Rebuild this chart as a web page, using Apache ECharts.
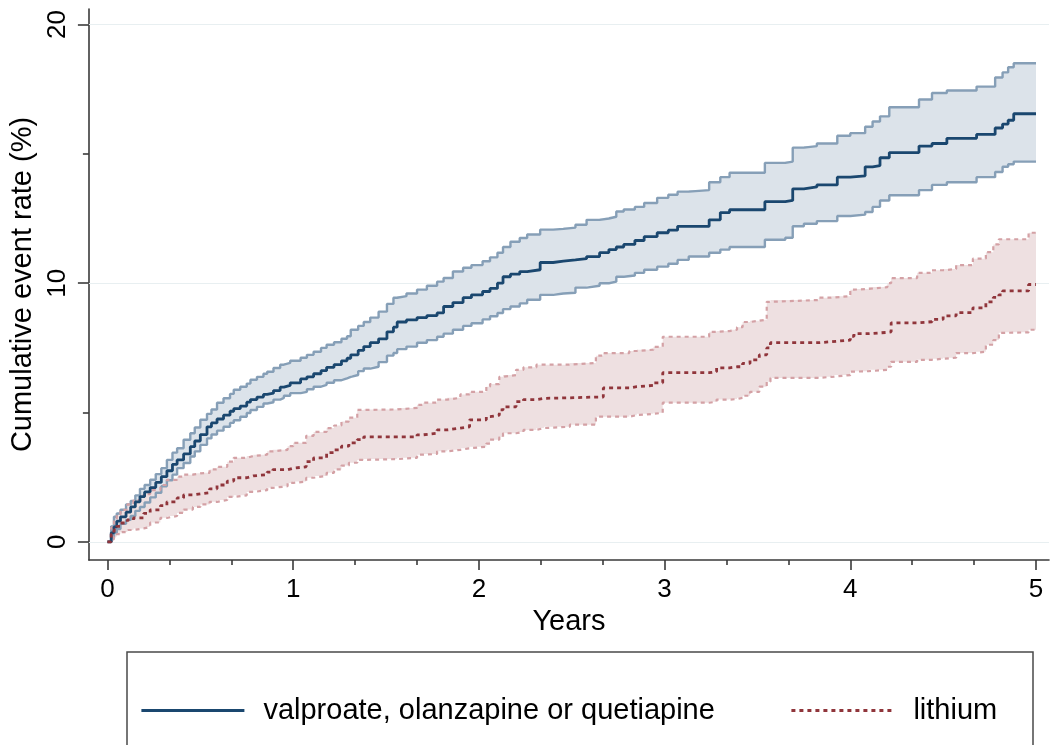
<!DOCTYPE html>
<html>
<head>
<meta charset="utf-8">
<title>Cumulative event rate by treatment</title>
<script src="https://cdn.jsdelivr.net/npm/echarts@6/dist/echarts.min.js"></script>
<style>
  html, body { margin: 0; padding: 0; background: #ffffff; }
  #chart { width: 1050px; height: 745px; }
</style>
</head>
<body>
<div id="chart"></div>
<script>
// Kaplan–Meier style cumulative event curves with 95% confidence bands.
// Times in years; rates in percent.

const blueYears = [0, 0.02, 0.035, 0.05, 0.07, 0.1, 0.125, 0.15, 0.175, 0.2, 0.23, 0.26, 0.29, 0.32, 0.35, 0.375, 0.41, 0.446, 0.47, 0.5,
  0.536, 0.56, 0.59, 0.625, 0.66, 0.68, 0.715, 0.75, 0.77, 0.805, 0.84, 0.86, 0.894, 0.93, 0.95, 0.984, 1.04, 1.074, 1.11, 1.15,
  1.18, 1.22, 1.26, 1.29, 1.31, 1.35, 1.38, 1.415, 1.46, 1.505, 1.54, 1.56, 1.61, 1.667, 1.72, 1.775, 1.81, 1.86, 1.915, 1.96,
  2.02, 2.06, 2.1, 2.13, 2.17, 2.22, 2.26, 2.33, 2.4, 2.455, 2.52, 2.58, 2.65, 2.7, 2.74, 2.78, 2.84, 2.89, 2.96, 3.02,
  3.07, 3.13, 3.24, 3.3, 3.35, 3.54, 3.65, 3.69, 3.75, 3.82, 3.93, 4.0, 4.08, 4.12, 4.16, 4.21, 4.37, 4.44, 4.52, 4.68,
  4.78, 4.82, 4.85, 4.88, 5.0];
const blueRate = [0, 0.35, 0.58, 0.8, 0.97, 1.15, 1.35, 1.55, 1.75, 1.93, 2.1, 2.3, 2.52, 2.75, 3.0, 3.17, 3.4, 3.68, 3.9, 4.15,
  4.45, 4.6, 4.75, 4.9, 5.05, 5.15, 5.25, 5.4, 5.5, 5.6, 5.7, 5.75, 5.85, 5.98, 6.05, 6.15, 6.3, 6.38, 6.5, 6.62,
  6.75, 6.85, 7.0, 7.1, 7.23, 7.4, 7.55, 7.7, 7.85, 8.12, 8.3, 8.5, 8.58, 8.67, 8.75, 8.85, 9.1, 9.25, 9.44, 9.55,
  9.68, 9.8, 10.0, 10.25, 10.35, 10.45, 10.52, 10.8, 10.85, 10.9, 10.95, 11.03, 11.18, 11.3, 11.4, 11.5, 11.65, 11.8, 11.95, 12.05,
  12.2, 12.2, 12.45, 12.73, 12.84, 13.15, 13.2, 13.65, 13.72, 13.8, 14.1, 14.15, 14.5, 14.55, 14.85, 15.05, 15.3, 15.4, 15.6, 15.75,
  16.0, 16.15, 16.3, 16.55, 16.55];
const blueLower = [0, 0.15, 0.35, 0.5, 0.7, 0.85, 1.0, 1.2, 1.35, 1.52, 1.72, 1.9, 2.15, 2.38, 2.6, 2.85, 3.05, 3.3, 3.5, 3.75,
  4.0, 4.15, 4.3, 4.45, 4.6, 4.7, 4.84, 4.98, 5.1, 5.22, 5.35, 5.4, 5.5, 5.57, 5.65, 5.75, 5.8, 5.9, 6.0, 6.07,
  6.15, 6.25, 6.32, 6.38, 6.45, 6.6, 6.7, 6.77, 6.95, 7.2, 7.3, 7.45, 7.55, 7.7, 7.8, 7.93, 8.05, 8.2, 8.35, 8.45,
  8.6, 8.72, 8.85, 9.0, 9.1, 9.22, 9.36, 9.55, 9.6, 9.63, 9.83, 9.9, 10.0, 10.06, 10.25, 10.3, 10.4, 10.52, 10.64, 10.75,
  10.9, 11.03, 11.18, 11.3, 11.4, 11.68, 11.76, 12.2, 12.3, 12.4, 12.6, 12.65, 12.75, 12.95, 13.2, 13.4, 13.6, 13.8, 13.9, 14.1,
  14.3, 14.5, 14.6, 14.7, 14.7];
const blueUpper = [0, 0.6, 0.97, 1.1, 1.24, 1.45, 1.58, 1.8, 2.05, 2.2, 2.4, 2.62, 2.85, 3.17, 3.45, 3.62, 3.95, 4.2, 4.42, 4.72,
  4.95, 5.12, 5.38, 5.55, 5.72, 5.88, 6.0, 6.12, 6.27, 6.38, 6.5, 6.58, 6.72, 6.85, 6.92, 7.0, 7.12, 7.23, 7.35, 7.5,
  7.62, 7.72, 7.85, 7.95, 8.2, 8.35, 8.5, 8.67, 8.9, 9.2, 9.44, 9.5, 9.6, 9.75, 9.9, 10.06, 10.2, 10.45, 10.6, 10.7,
  10.85, 11.0, 11.18, 11.4, 11.6, 11.75, 11.88, 12.07, 12.1, 12.15, 12.26, 12.45, 12.5, 12.57, 12.77, 12.85, 12.95, 13.1, 13.3, 13.42,
  13.54, 13.6, 13.9, 14.1, 14.27, 14.65, 14.7, 15.24, 15.3, 15.4, 15.7, 15.8, 16.05, 16.25, 16.45, 16.8, 17.1, 17.35, 17.45, 17.6,
  17.95, 18.15, 18.35, 18.5, 18.5];

const redYears = [0, 0.02, 0.035, 0.05, 0.07, 0.107, 0.14, 0.195, 0.23, 0.285, 0.32, 0.375, 0.41, 0.46, 0.5, 0.55, 0.59, 0.645, 0.68, 0.75,
  0.785, 0.86, 0.89, 0.97, 1.0, 1.07, 1.11, 1.18, 1.22, 1.26, 1.3, 1.345, 1.38, 1.56, 1.667, 1.7, 1.775, 1.83, 1.9, 1.95,
  2.04, 2.06, 2.11, 2.13, 2.2, 2.24, 2.31, 2.35, 2.49, 2.63, 2.67, 2.81, 2.85, 2.94, 2.99, 3.24, 3.28, 3.35, 3.39, 3.42,
  3.46, 3.51, 3.55, 3.57, 3.83, 3.9, 4.0, 4.02, 4.1, 4.2, 4.22, 4.36, 4.44, 4.5, 4.57, 4.66, 4.73, 4.77, 4.8, 4.82,
  4.96, 5.0];
const redRate = [0, 0.3, 0.46, 0.6, 0.73, 0.85, 0.93, 1.1, 1.24, 1.4, 1.55, 1.7, 1.82, 1.86, 1.9, 2.05, 2.2, 2.35, 2.48, 2.55,
  2.6, 2.7, 2.79, 2.85, 2.9, 3.1, 3.25, 3.45, 3.56, 3.7, 3.83, 3.95, 4.06, 4.06, 4.14, 4.2, 4.33, 4.4, 4.45, 4.72,
  4.84, 4.9, 5.1, 5.22, 5.42, 5.5, 5.55, 5.57, 5.6, 5.6, 5.95, 6.0, 6.05, 6.15, 6.54, 6.58, 6.73, 6.77, 6.77, 6.9,
  7.04, 7.23, 7.5, 7.7, 7.74, 7.8, 7.95, 8.05, 8.1, 8.12, 8.47, 8.51, 8.6, 8.74, 8.86, 9.05, 9.28, 9.45, 9.55, 9.7,
  9.95, 9.95];
const redLower = [0, 0.1, 0.2, 0.3, 0.38, 0.46, 0.52, 0.58, 0.75, 0.93, 1.0, 1.12, 1.25, 1.35, 1.45, 1.55, 1.62, 1.74, 1.8, 1.93,
  2.0, 2.09, 2.15, 2.28, 2.33, 2.48, 2.55, 2.67, 2.8, 2.95, 3.06, 3.17, 3.2, 3.25, 3.37, 3.4, 3.5, 3.56, 3.62, 3.68,
  3.8, 3.95, 4.05, 4.2, 4.25, 4.33, 4.4, 4.45, 4.53, 4.84, 4.84, 4.9, 4.95, 4.99, 5.38, 5.42, 5.5, 5.52, 5.57, 5.65,
  5.8, 6.0, 6.19, 6.34, 6.38, 6.45, 6.58, 6.6, 6.65, 6.77, 6.96, 7.04, 7.08, 7.12, 7.3, 7.35, 7.62, 7.8, 8.08, 8.1,
  8.2, 8.2];
const redUpper = [0, 0.55, 0.85, 1.05, 1.24, 1.45, 1.62, 1.85, 2.0, 2.2, 2.4, 2.52, 2.6, 2.65, 2.67, 2.8, 2.9, 3.1, 3.25, 3.32,
  3.37, 3.5, 3.56, 3.7, 3.83, 4.1, 4.25, 4.4, 4.5, 4.65, 4.8, 5.1, 5.12, 5.18, 5.3, 5.38, 5.5, 5.57, 5.7, 5.8,
  6.0, 6.1, 6.38, 6.45, 6.65, 6.75, 6.85, 6.85, 6.92, 7.2, 7.3, 7.38, 7.43, 7.54, 7.93, 8.12, 8.15, 8.2, 8.3, 8.5,
  8.55, 8.59, 9.28, 9.35, 9.44, 9.5, 9.75, 9.78, 9.85, 10.0, 10.2, 10.4, 10.5, 10.55, 10.7, 10.95, 11.2, 11.5, 11.7, 11.7,
  11.95, 11.95];

// Axis ticks
const xTicks = [0, 1, 2, 3, 4, 5];
const xMinorTicks = [1/3, 2/3, 4/3, 5/3, 7/3, 8/3, 10/3, 11/3, 13/3, 14/3];
const yTicks = [0, 10, 20];
const yMinorTicks = [5, 15];

const seriesNames = ['valproate, olanzapine or quetiapine', 'lithium'];

const FONT = 'Liberation Sans, Arial, sans-serif';
const AXIS_COLOR = '#3a3a3a';

const pairs = (xs, ys) => xs.map((x, i) => [x, ys[i]]);

// Confidence band: a single polygon following the upper step curve forward
// and the lower step curve back, both mapped through the grid's axes.
function stepBand(xs, lo, hi, color) {
  return {
    type: 'custom', silent: true, clip: true,
    data: [[xs[0], lo[0]]],
    renderItem: function (params, api) {
      const pts = [];
      for (let i = 0; i < xs.length; i++) {
        pts.push(api.coord([xs[i], hi[i]]));
        if (i + 1 < xs.length) pts.push(api.coord([xs[i + 1], hi[i]]));
      }
      for (let i = xs.length - 1; i >= 0; i--) {
        if (i + 1 < xs.length) pts.push(api.coord([xs[i + 1], lo[i]]));
        pts.push(api.coord([xs[i], lo[i]]));
      }
      return {
        type: 'polygon',
        shape: { points: pts },
        style: { fill: color, stroke: null }
      };
    }
  };
}
function stepLine(name, xs, ys, color, width, type) {
  return {
    name: name, type: 'line', step: 'end', symbol: 'none', silent: true,
    data: pairs(xs, ys),
    lineStyle: { color: color, width: width, type: type || 'solid' },
    itemStyle: { color: color }
  };
}

const chart = echarts.init(document.getElementById('chart'), null, { renderer: 'canvas' });

const legendBase = {
  top: 696, padding: 0, itemWidth: 103, itemHeight: 14, selectedMode: false,
  itemStyle: { opacity: 0 },
  lineStyle: { width: 2.8 },
  textStyle: { fontSize: 29, color: '#000', fontFamily: FONT, padding: [0, 0, 0, 14] }
};

const option = {
  backgroundColor: '#ffffff',
  animation: false,
  textStyle: { fontFamily: FONT },
  grid: { left: 88, right: 1, top: 9, bottom: 185, containLabel: false },
  xAxis: [
    {
      type: 'value', min: -0.1, max: 5.07,
      name: 'Years', nameLocation: 'middle', nameGap: 44,
      nameTextStyle: { fontSize: 29, color: '#000', fontFamily: FONT },
      axisLine: { show: true, onZero: false, lineStyle: { color: AXIS_COLOR, width: 1.6 } },
      axisTick: { show: true, customValues: xTicks, length: 10, lineStyle: { color: AXIS_COLOR, width: 1.6 } },
      axisLabel: { show: true, customValues: xTicks, fontSize: 26, color: '#000', margin: 17, fontFamily: FONT },
      splitLine: { show: false }
    },
    {
      type: 'value', min: -0.1, max: 5.07, position: 'bottom',
      axisLine: { show: false, onZero: false },
      axisTick: { show: true, customValues: xMinorTicks, length: 5, lineStyle: { color: AXIS_COLOR, width: 1.6 } },
      axisLabel: { show: false },
      splitLine: { show: false }
    }
  ],
  yAxis: [
    {
      type: 'value', min: -0.7, max: 20.6,
      name: 'Cumulative event rate (%)', nameLocation: 'middle', nameGap: 50,
      nameTextStyle: { fontSize: 29, color: '#000', fontFamily: FONT },
      axisLine: { show: true, onZero: false, lineStyle: { color: AXIS_COLOR, width: 1.6 } },
      axisTick: { show: true, customValues: yTicks, length: 11, lineStyle: { color: AXIS_COLOR, width: 1.6 } },
      axisLabel: { show: true, customValues: yTicks, rotate: 90, fontSize: 26, color: '#000', margin: 18, fontFamily: FONT },
      splitLine: { show: false }
    },
    {
      type: 'value', min: -0.7, max: 20.6, position: 'left',
      axisLine: { show: false, onZero: false },
      axisTick: { show: true, customValues: yMinorTicks, length: 6, lineStyle: { color: AXIS_COLOR, width: 1.6 } },
      axisLabel: { show: false },
      splitLine: { show: false }
    }
  ],
  legend: [
    Object.assign({ data: [seriesNames[0]], left: 140 }, legendBase),
    Object.assign({ data: [seriesNames[1]], left: 790 }, legendBase)
  ],
  graphic: [
    {
      type: 'rect', silent: true,
      shape: { x: 127, y: 652, width: 906, height: 120 },
      style: { fill: 'none', stroke: '#4a4a4a', lineWidth: 1.5 }
    }
  ],
  series: [
    {
      type: 'line', data: [], silent: true,
      markLine: {
        silent: true, symbol: 'none', z: 1, animation: false,
        label: { show: false },
        lineStyle: { color: '#e8eff1', width: 1, type: 'solid' },
        data: yTicks.map(v => ({ yAxis: v }))
      }
    },
    stepBand(blueYears, blueLower, blueUpper, '#dce3ea'),
    stepBand(redYears, redLower, redUpper, '#eee0e1'),
    stepLine('blueLowerCI', blueYears, blueLower, '#869fb7', 2.4),
    stepLine('blueUpperCI', blueYears, blueUpper, '#869fb7', 2.4),
    stepLine('redLowerCI', redYears, redLower, '#d4a1a5', 2.2, [4, 4]),
    stepLine('redUpperCI', redYears, redUpper, '#d4a1a5', 2.2, [4, 4]),
    stepLine(seriesNames[0], blueYears, blueRate, '#1a476f', 2.8),
    stepLine(seriesNames[1], redYears, redRate, '#90353b', 2.8, [4, 4])
  ]
};

chart.setOption(option);
</script>
</body>
</html>
